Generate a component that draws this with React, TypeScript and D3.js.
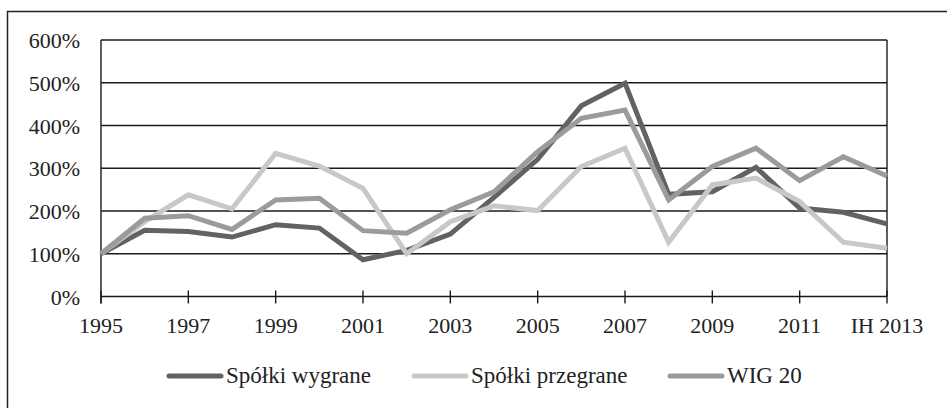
import React, { useEffect, useRef } from "react";
import * as d3 from "d3";

const categories = [
  "1995", "1996", "1997", "1998", "1999", "2000", "2001", "2002", "2003", "2004",
  "2005", "2006", "2007", "2008", "2009", "2010", "2011", "2012", "IH 2013",
];

const winners = [100, 155, 152, 139, 168, 160, 86, 108, 146, 232, 321, 446, 499, 239, 245, 302, 207, 197, 170];
const losers = [100, 175, 238, 205, 335, 305, 253, 100, 175, 212, 201, 304, 347, 127, 261, 277, 222, 127, 113];
const wig20 = [100, 183, 189, 157, 226, 230, 154, 148, 203, 245, 339, 417, 436, 226, 304, 347, 271, 327, 282];

const yTicks = [0, 100, 200, 300, 400, 500, 600];

const series = [
  { name: "Spółki wygrane", values: winners, color: "#626262" },
  { name: "Spółki przegrane", values: losers, color: "#c8c8c8" },
  { name: "WIG 20", values: wig20, color: "#9b9b9d" },
];

const W = 947;
const H = 408;
const FONT = "Liberation Serif";

const App = () => {
  const ref = useRef(null);

  useEffect(() => {
    const svg = d3.select(ref.current);
    svg.selectAll("*").remove();

    const x = d3.scalePoint().domain(categories).range([101, 887]);
    const y = d3.scaleLinear().domain([0, 600]).range([296.5, 40]);

    // outer frame
    svg
      .append("rect")
      .attr("x", 7.5)
      .attr("y", 11.5)
      .attr("width", 960)
      .attr("height", 420)
      .attr("fill", "none")
      .attr("stroke", "#222")
      .attr("stroke-width", 1.5);

    // gridlines
    svg
      .selectAll(".grid")
      .data(yTicks.filter((t) => t > 0))
      .enter()
      .append("line")
      .attr("x1", 101)
      .attr("x2", 887)
      .attr("y1", (d) => y(d))
      .attr("y2", (d) => y(d))
      .attr("stroke", "#1a1a1a")
      .attr("stroke-width", 1.4);

    // right border of plot
    svg
      .append("line")
      .attr("x1", 887)
      .attr("x2", 887)
      .attr("y1", y(600))
      .attr("y2", y(0))
      .attr("stroke", "#1a1a1a")
      .attr("stroke-width", 1.4);

    // y axis line
    svg
      .append("line")
      .attr("x1", 101)
      .attr("x2", 101)
      .attr("y1", y(600))
      .attr("y2", y(0) + 7)
      .attr("stroke", "#1a1a1a")
      .attr("stroke-width", 1.4);

    // y labels
    svg
      .selectAll(".ylab")
      .data(yTicks)
      .enter()
      .append("text")
      .attr("x", 80)
      .attr("y", (d) => y(d) + 8)
      .attr("text-anchor", "end")
      .attr("font-family", FONT)
      .attr("font-size", 22)
      .attr("fill", "#222")
      .text((d) => `${d}%`);

    // lines
    const line = d3
      .line<number>()
      .x((d, i) => x(categories[i]) as number)
      .y((d) => y(d));

    series.forEach((s) => {
      svg
        .append("path")
        .datum(s.values)
        .attr("d", line)
        .attr("fill", "none")
        .attr("stroke", s.color)
        .attr("stroke-width", 5)
        .attr("stroke-linejoin", "miter");
    });

    // x axis
    svg
      .append("line")
      .attr("x1", 101)
      .attr("x2", 887)
      .attr("y1", y(0))
      .attr("y2", y(0))
      .attr("stroke", "#1a1a1a")
      .attr("stroke-width", 1.4);

    const labelled = categories.filter((c, i) => i % 2 === 0);
    svg
      .selectAll(".xtick")
      .data(labelled)
      .enter()
      .append("line")
      .attr("x1", (d) => x(d) as number)
      .attr("x2", (d) => x(d) as number)
      .attr("y1", y(0) - 6)
      .attr("y2", y(0) + 7)
      .attr("stroke", "#1a1a1a")
      .attr("stroke-width", 1.4);

    svg
      .selectAll(".xlab")
      .data(labelled)
      .enter()
      .append("text")
      .attr("x", (d) => x(d) as number)
      .attr("y", 333)
      .attr("text-anchor", "middle")
      .attr("font-family", FONT)
      .attr("font-size", 22)
      .attr("fill", "#222")
      .text((d) => d);

    // legend
    const legendX = [167, 412, 668];
    series.forEach((s, i) => {
      const g = svg.append("g").attr("transform", `translate(${legendX[i]},376)`);
      g.append("line")
        .attr("x1", 2)
        .attr("x2", 54)
        .attr("y1", 0)
        .attr("y2", 0)
        .attr("stroke", s.color)
        .attr("stroke-width", 5)
        .attr("stroke-linecap", "round");
      g.append("text")
        .attr("x", 59)
        .attr("y", 7)
        .attr("font-family", FONT)
        .attr("font-size", 23)
        .attr("fill", "#222")
        .text(s.name);
    });
  }, []);

  return (
    <svg
      ref={ref}
      width={W}
      height={H}
      style={{ position: "absolute", left: 0, top: 0, background: "#fff" }}
    />
  );
};

export default App;
